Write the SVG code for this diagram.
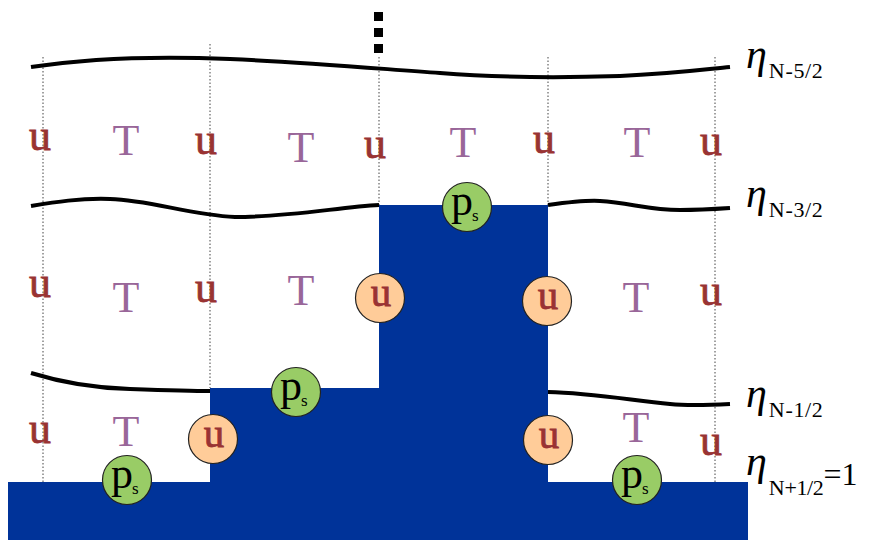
<svg xmlns="http://www.w3.org/2000/svg" width="869" height="540" viewBox="0 0 869 540">
<style>
.grid{stroke:#444;stroke-width:1;stroke-dasharray:1.5,2;fill:none}
.eta{fill:none;stroke:#000;stroke-width:4;stroke-linecap:butt}
.u{font-family:"Liberation Serif",serif;font-size:44px;fill:#993333;stroke:#993333;stroke-width:0.8;text-anchor:middle}
.uc{font-family:"Liberation Serif",serif;font-size:41px;fill:#993333;stroke:#993333;stroke-width:0.8;text-anchor:middle}
.t{font-family:"Liberation Serif",serif;font-size:44px;fill:#996699;text-anchor:middle}
.p{font-family:"Liberation Serif",serif;font-size:44px;fill:#000}
.s{font-family:"Liberation Serif",serif;font-size:17px;fill:#000}
.orange{fill:#FFCC99;stroke:#222;stroke-width:1.2}
.green{fill:#99CC66;stroke:#222;stroke-width:1.2}
.lbl{font-family:"Liberation Serif",serif;fill:#000}
.gr{font-style:italic;font-size:42px}
.sub{font-size:22px}
</style>
<rect width="869" height="540" fill="#fff"/>
<g id="grid-lines">
<line class="grid" x1="43" y1="57" x2="43" y2="482"/>
<line class="grid" x1="210" y1="44" x2="210" y2="388"/>
<line class="grid" x1="379" y1="57" x2="379" y2="205"/>
<line class="grid" x1="548" y1="57" x2="548" y2="205"/>
<line class="grid" x1="715" y1="57" x2="715" y2="482"/>
</g>
<g id="bed">
<path d="M8,482 H210 V388 H379 V205 H548 V482 H748 V540 H8 Z" fill="#003399"/>
</g>
<g id="dots">
<rect x="374" y="12" width="9" height="9" fill="#000"/>
<rect x="374" y="28" width="9" height="9" fill="#000"/>
<rect x="374" y="44" width="9" height="9" fill="#000"/>
</g>
<g id="connectors">
<path class="eta" d="M31,67 C90,58 160,56 230,59 C300,62 370,68 440,73 C490,77 560,78 620,76 C670,74 700,70 730,67"/>
<path class="eta" d="M31,206 C55,202 80,198 110,199 C150,200 190,215 235,217 C290,217 340,207 379,205"/>
<path class="eta" d="M548,205 C570,202 585,200 600,201 C630,203 650,210 680,210 C700,210 715,209 730,208"/>
<path class="eta" d="M31,373 C60,382 90,388 130,389 C160,390 190,391 210,391"/>
<path class="eta" d="M548,392 C590,393 630,400 670,404 C690,406 710,405 730,404"/>
</g>
<g id="row1">
<text class="u" x="40" y="150">u</text>
<text class="t" x="126" y="155">T</text>
<text class="u" x="206" y="154">u</text>
<text class="t" x="301" y="162">T</text>
<text class="u" x="375" y="158">u</text>
<text class="t" x="463" y="157">T</text>
<text class="u" x="544" y="153">u</text>
<text class="t" x="637" y="157">T</text>
<text class="u" x="711" y="155">u</text>
</g>
<g id="row2">
<text class="u" x="40" y="297">u</text>
<text class="t" x="126" y="312">T</text>
<text class="u" x="206" y="302">u</text>
<text class="t" x="301" y="305">T</text>
<text class="t" x="636" y="312">T</text>
<text class="u" x="711" y="305">u</text>
</g>
<g id="row3">
<text class="u" x="40" y="443">u</text>
<text class="t" x="126" y="446">T</text>
<text class="t" x="636" y="442">T</text>
<text class="u" x="711" y="455">u</text>
</g>
<g id="u-node-1"><circle class="orange" cx="380" cy="298" r="24.5"/><text class="uc" x="381" y="306">u</text></g>
<g id="u-node-2"><circle class="orange" cx="547" cy="301" r="24.5"/><text class="uc" x="548" y="309">u</text></g>
<g id="u-node-3"><circle class="orange" cx="213" cy="439" r="24.5"/><text class="uc" x="214" y="447">u</text></g>
<g id="u-node-4"><circle class="orange" cx="548" cy="440" r="24.5"/><text class="uc" x="549" y="448">u</text></g>
<g id="ps-node-1"><circle class="green" cx="467" cy="207" r="24.5"/><text class="p" x="451" y="215">p</text><text class="s" x="472" y="221">s</text></g>
<g id="ps-node-2"><circle class="green" cx="296" cy="392" r="24.5"/><text class="p" x="280" y="400">p</text><text class="s" x="301" y="406">s</text></g>
<g id="ps-node-3"><circle class="green" cx="127" cy="480" r="24.5"/><text class="p" x="111" y="488">p</text><text class="s" x="132" y="494">s</text></g>
<g id="ps-node-4"><circle class="green" cx="637" cy="480" r="24.5"/><text class="p" x="621" y="488">p</text><text class="s" x="642" y="494">s</text></g>
<g id="labels">
<text class="lbl" x="746" y="68"><tspan class="gr">η</tspan><tspan class="sub" dx="2" dy="10" textLength="54">N-5/2</tspan></text>
<text class="lbl" x="746" y="207"><tspan class="gr">η</tspan><tspan class="sub" dx="2" dy="10" textLength="54">N-3/2</tspan></text>
<text class="lbl" x="746" y="407"><tspan class="gr">η</tspan><tspan class="sub" dx="2" dy="10" textLength="54">N-1/2</tspan></text>
<text class="lbl" x="746" y="475"><tspan class="gr">η</tspan><tspan class="sub" dx="2" dy="20" textLength="55">N+1/2</tspan><tspan font-size="32" dy="-10">=1</tspan></text>
</g>
</svg>
